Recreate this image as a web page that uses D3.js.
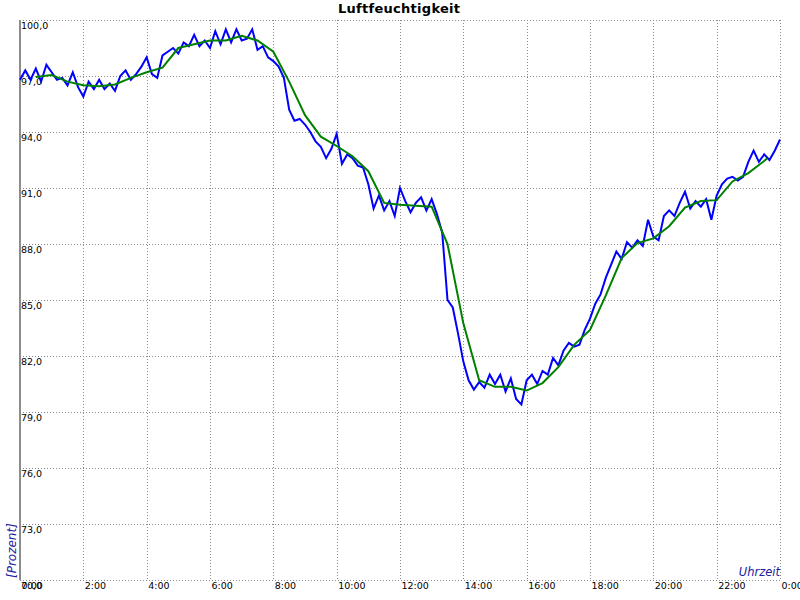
<!DOCTYPE html>
<html><head><meta charset="utf-8">
<script src="https://cdn.jsdelivr.net/npm/d3@7"></script>
<style>html,body{margin:0;padding:0;background:#fff;}svg{display:block;}</style>
</head><body>
<script>
const title = "Luftfeuchtigkeit";
const xTickHours = [0,2,4,6,8,10,12,14,16,18,20,22,24];
const xTickLabels = ["0:00","2:00","4:00","6:00","8:00","10:00","12:00","14:00","16:00","18:00","20:00","22:00","0:00"];
const yTickValues = [70,73,76,79,82,85,88,91,94,97,100];
const yTickLabels = ["70,0","73,0","76,0","79,0","82,0","85,0","88,0","91,0","94,0","97,0","100,0"];
// raw humidity, one value every 10 minutes from 0:00 to 24:00
const rawStepMinutes = 10;
const rawValues = [
96.8,97.3,96.8,97.4,96.7,97.6,97.2,96.8,96.9,96.5,97.2,96.4,95.9,96.7,96.3,96.8,96.3,96.6,96.2,97.0,
97.3,96.8,97.1,97.5,98.0,97.1,96.9,98.1,98.3,98.5,98.2,98.8,98.6,99.2,98.6,98.9,98.5,99.4,98.7,99.5,
98.8,99.5,98.9,99.0,99.5,98.4,98.6,98.0,97.8,97.5,96.9,95.2,94.6,94.7,94.4,94.0,93.5,93.2,92.6,93.1,
93.9,92.3,92.8,92.6,92.2,92.1,91.2,89.9,90.6,89.8,90.3,89.5,91.0,90.3,89.7,90.2,90.5,89.8,90.4,89.6,
88.6,85.0,84.6,83.2,81.7,80.7,80.2,80.6,80.3,81.0,80.5,81.0,80.1,80.8,79.7,79.4,80.7,81.0,80.5,81.2,
81.0,81.9,81.5,82.3,82.7,82.5,82.6,83.4,84.0,84.8,85.3,86.2,86.9,87.6,87.2,88.1,87.8,88.2,87.9,89.3,
88.4,88.2,89.5,89.8,89.5,90.2,90.8,89.9,90.3,90.0,90.4,89.3,90.6,91.2,91.5,91.6,91.4,91.6,92.4,93.0,
92.4,92.8,92.5,93.0,93.6
];
// smoothed (hourly mean) curve
const smoothHours = [0.5,1,1.5,2,2.5,3,3.5,4,4.5,5,5.5,6,6.5,7,7.5,8,8.5,9,9.5,10,10.5,11,11.5,12,12.5,13,13.5,14,14.5,15,15.5,16,16.5,17,17.5,18,18.5,19,19.5,20,20.5,21,21.5,22,22.5,23,23.5,23.6];
const smoothValues = [96.95,97.05,96.7,96.5,96.45,96.55,96.9,97.2,97.45,98.5,98.7,98.9,98.9,99.15,98.9,98.3,96.7,94.9,93.75,93.25,92.7,91.9,90.2,90.1,90.05,90.0,88.0,83.75,80.7,80.35,80.35,80.15,80.55,81.4,82.6,83.4,85.25,87.25,88.05,88.3,88.95,89.95,90.3,90.35,91.35,91.8,92.45,92.6];

const W = 800, H = 600;
const svg = d3.select("body").append("svg").attr("width", W).attr("height", H);
const x = d3.scaleLinear().domain([0,24]).range([20,780]);
const y = d3.scaleLinear().domain([70,100]).range([580,20]);
const font = "DejaVu Sans, Verdana, sans-serif";

// grid
const grid = svg.append("g").attr("stroke","#8a8a8a").attr("stroke-width",1).attr("stroke-dasharray","1,2").attr("shape-rendering","crispEdges");
grid.selectAll("line.h").data(yTickValues).join("line").attr("class","h")
  .attr("x1",x(0)).attr("x2",x(24)).attr("y1",d=>Math.round(y(d))+0.5).attr("y2",d=>Math.round(y(d))+0.5);
grid.selectAll("line.v").data(xTickHours.slice(1)).join("line").attr("class","v")
  .attr("y1",y(100)).attr("y2",y(70)).attr("x1",d=>Math.round(x(d))+0.5).attr("x2",d=>Math.round(x(d))+0.5);

// left axis bar
svg.append("line").attr("x1",20).attr("x2",20).attr("y1",y(100)).attr("y2",y(70))
  .attr("stroke","#8c8c8c").attr("stroke-width",2);

// y labels
svg.append("g").selectAll("text").data(yTickValues).join("text")
  .attr("x",x(0)+1).attr("y",d=>y(d)+9).text((d,i)=>yTickLabels[i])
  .attr("font-family",font).attr("font-size","9.5px").attr("fill","#000");

// x labels
svg.append("g").selectAll("text").data(xTickHours).join("text")
  .attr("x",d=>x(d)+1.5).attr("y",589).text((d,i)=>xTickLabels[i])
  .attr("font-family",font).attr("font-size","9.5px").attr("fill","#000");

// lines
const rawData = rawValues.map((v,i)=>({t:i*rawStepMinutes/60, v}));
const smoothData = smoothHours.map((t,i)=>({t, v:smoothValues[i]}));
const line = d3.line().x(d=>x(d.t)).y(d=>y(d.v));
svg.append("path").datum(rawData).attr("d",line).attr("fill","none").attr("stroke","#0000ff").attr("stroke-width",2).attr("stroke-linejoin","miter");
svg.append("path").datum(smoothData).attr("d",line).attr("fill","none").attr("stroke","#008000").attr("stroke-width",2);

// title
svg.append("text").attr("x",338).attr("y",13).attr("text-anchor","start").text(title)
  .attr("textLength",122).attr("lengthAdjust","spacing")
  .attr("font-family",font).attr("font-size","13px").attr("font-weight","bold").attr("fill","#000");

// axis titles
svg.append("text").attr("x",780).attr("y",576).attr("text-anchor","end").text("Uhrzeit")
  .attr("font-family",font).attr("font-size","11.5px").attr("font-style","italic").attr("fill","#2020a0");
svg.append("text").attr("transform","translate(16,578) rotate(-90)").attr("text-anchor","start").text("[Prozent]")
  .attr("font-family",font).attr("font-size","12px").attr("font-style","italic").attr("fill","#2020a0");
</script>
</body></html>
